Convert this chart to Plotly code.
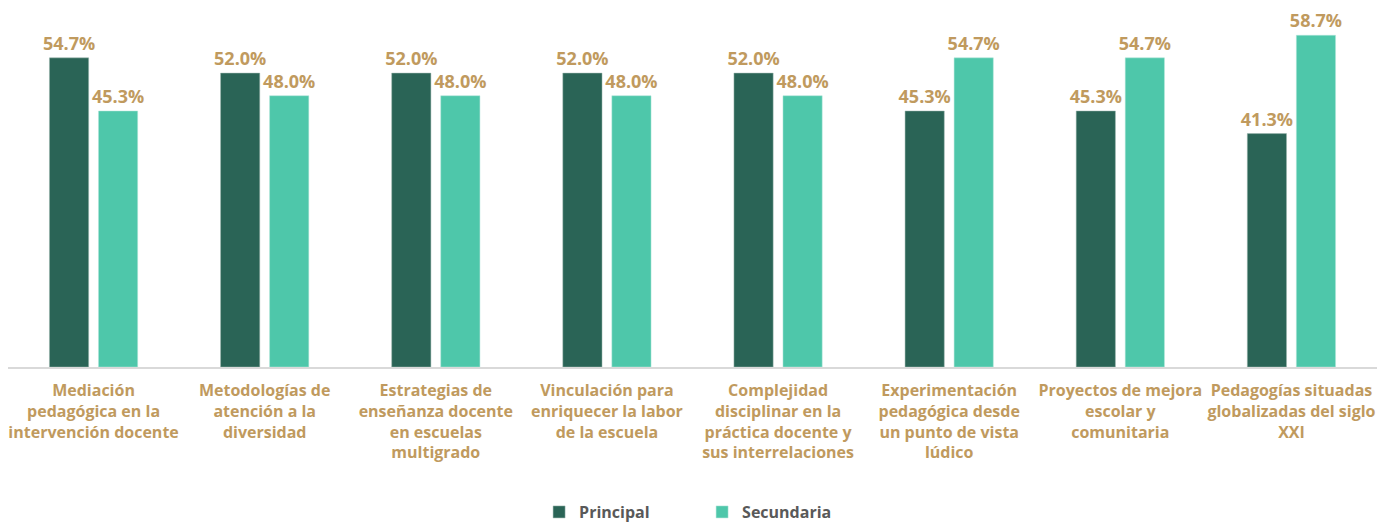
import plotly.graph_objects as go

categories = [
    "Mediación<br>pedagógica en la<br>intervención docente",
    "Metodologías de<br>atención a la<br>diversidad",
    "Estrategias de<br>enseñanza docente<br>en escuelas<br>multigrado",
    "Vinculación para<br>enriquecer la labor<br>de la escuela",
    "Complejidad<br>disciplinar en la<br>práctica docente y<br>sus interrelaciones",
    "Experimentación<br>pedagógica desde<br>un punto de vista<br>lúdico",
    "Proyectos de mejora<br>escolar y<br>comunitaria",
    "Pedagogías situadas<br>globalizadas del siglo<br>XXI",
]
principal = [54.7, 52.0, 52.0, 52.0, 52.0, 45.3, 45.3, 41.3]
secundaria = [45.3, 48.0, 48.0, 48.0, 48.0, 54.7, 54.7, 58.7]

FONT = "Open Sans"
TAN = "#C09A5E"

fig = go.Figure()
fig.add_trace(go.Bar(
    name="Principal", x=categories, y=principal,
    marker=dict(color="#2A6456", line=dict(color="#9FB8B0", width=0.5)),
    text=[f"{v:.1f}%" for v in principal], textposition="outside",
    textfont=dict(family=FONT, size=18, color=TAN, weight="bold"),
    constraintext="none", cliponaxis=False,
))
fig.add_trace(go.Bar(
    name="Secundaria", x=categories, y=secundaria,
    marker=dict(color="#4EC7AA", line=dict(color="#B5E6DA", width=0.5)),
    text=[f"{v:.1f}%" for v in secundaria], textposition="outside",
    textfont=dict(family=FONT, size=18, color=TAN, weight="bold"),
    constraintext="none", cliponaxis=False,
))

fig.update_layout(
    width=1384, height=515,
    margin=dict(l=0, r=15, t=12, b=156, autoexpand=False),
    plot_bgcolor="white", paper_bgcolor="white",
    barmode="group", bargap=0.427, bargroupgap=0.2,
    font=dict(family=FONT),
    xaxis=dict(
        showline=True, linecolor="#D9D9D9", linewidth=1.5,
        ticks="", showgrid=False, automargin=False,
        ticklabelstandoff=8,
        tickfont=dict(family=FONT, size=16, color=TAN, weight="bold"),
    ),
    yaxis=dict(range=[0, 61.4], visible=False, showgrid=False),
    legend=dict(
        orientation="h", x=0.507, xanchor="center", y=-0.418, yanchor="middle",
        font=dict(family=FONT, size=16, color="#595959", weight="bold"),
        entrywidth=118, itemwidth=30,
    ),
)

fig.write_html("out.html")
